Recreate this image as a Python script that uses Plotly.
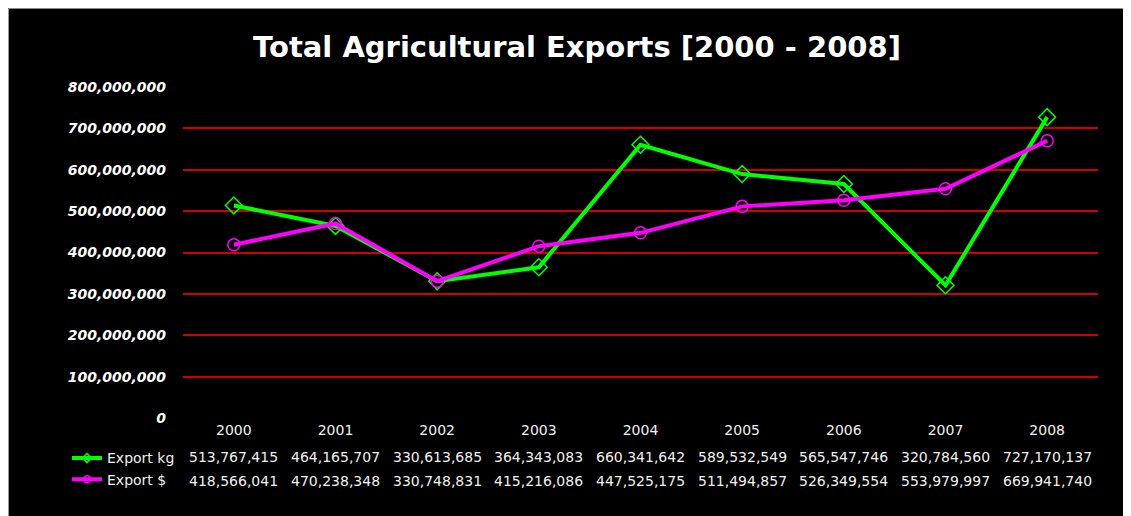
import plotly.graph_objects as go

years = ["2000", "2001", "2002", "2003", "2004", "2005", "2006", "2007", "2008"]
export_kg = [513767415, 464165707, 330613685, 364343083, 660341642, 589532549, 565547746, 320784560, 727170137]
export_usd = [418566041, 470238348, 330748831, 415216086, 447525175, 511494857, 526349554, 553979997, 669941740]
series_names = ["Export kg", "Export $"]
y_ticks = [0, 100000000, 200000000, 300000000, 400000000, 500000000, 600000000, 700000000, 800000000]
title_text = "Total Agricultural Exports [2000 - 2008]"

OFF = 8  # page body margin
W, H = 1123, 508
L, R, T, B = 175, 33, 79, 98.4
PW, PH = W - L - R, H - T - B

def px_x(p):  # screen pixel -> paper x
    return (p - OFF - L) / PW

def px_y(p):  # screen pixel -> paper y
    return (H - B - (p - OFF)) / PH

fig = go.Figure()
styles = [
    dict(color="#00FF00", symbol="diamond-open"),
    dict(color="#FF00FF", symbol="circle-open"),
]
for name, vals, st, size in ((series_names[0], export_kg, styles[0], 13), (series_names[1], export_usd, styles[1], 12)):
    fig.add_trace(go.Scatter(
        x=years, y=vals, name=name, mode="lines+markers", showlegend=False,
        line=dict(color=st["color"], width=4),
        marker=dict(symbol=st["symbol"], size=size, color=st["color"], line=dict(width=1.5, color=st["color"]))))
# legend keys (no data)
for i, (name, st) in enumerate(zip(series_names, styles)):
    fig.add_trace(go.Scatter(
        x=[None], y=[None], name=name, mode="lines+markers", legendgroup=str(i),
        line=dict(color=st["color"], width=4),
        marker=dict(symbol=st["symbol"], size=7, color=st["color"], line=dict(width=1.5, color=st["color"]))))

annotations = []
for row_vals, ypix in ((export_kg, 457), (export_usd, 481)):
    for i, v in enumerate(row_vals):
        annotations.append(dict(x=i, xref="x", y=px_y(ypix), yref="paper", text=f"{v:,}",
                                showarrow=False, xanchor="center", yanchor="middle",
                                font=dict(family="DejaVu Sans", size=14, color="#f0f0f0")))

fig.update_layout(
    width=W, height=H,
    margin=dict(l=L, r=R, t=T, b=B),
    paper_bgcolor="black", plot_bgcolor="black",
    title=dict(text=title_text, xref="container", x=(577 - OFF) / W, xanchor="center",
               y=1 - (47 - OFF) / H, yanchor="middle",
               font=dict(family="DejaVu Sans", size=29, color="white", weight="bold")),
    showlegend=True,
    legend=dict(x=px_x(67), y=px_y(442), xanchor="left", yanchor="top", bgcolor="rgba(0,0,0,0)",
                font=dict(family="DejaVu Sans", size=14, color="#f0f0f0"), tracegroupgap=6,
                traceorder="normal"),
    annotations=annotations,
    shapes=[dict(type="rect", xref="paper", yref="paper", x0=px_x(8.5), x1=px_x(1200),
                 y0=px_y(700), y1=px_y(8.5), fillcolor="rgba(0,0,0,0)", line=dict(color="#9a9a9a", width=1),
                 layer="below")],
)
fig.update_xaxes(type="category", range=[-0.5, len(years) - 0.5], showgrid=False, zeroline=False,
                 showline=False, ticks="", ticklabelstandoff=2,
                 tickfont=dict(family="DejaVu Sans", size=14, color="#f0f0f0"))
fig.update_yaxes(range=[0, 800000000], tickvals=y_ticks, tickformat=",d",
                 showgrid=True, gridcolor="#D00000", gridwidth=1.5,
                 zeroline=True, zerolinecolor="black", showline=False, ticks="",
                 ticklabelstandoff=16,
                 tickfont=dict(family="DejaVu Sans", size=14, color="white", weight="bold", style="italic"))

fig.write_html("out.html")
